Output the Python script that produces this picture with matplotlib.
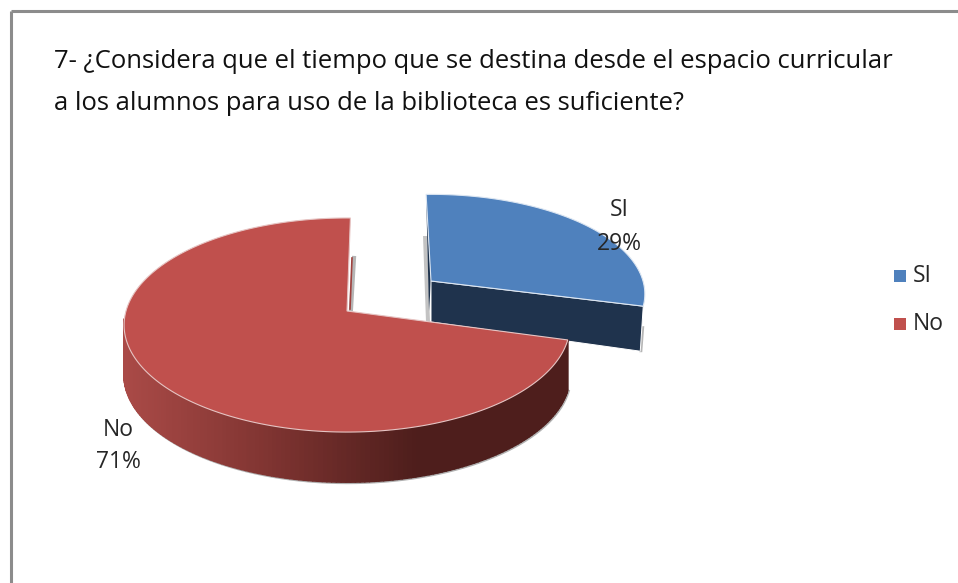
import numpy as np
import matplotlib
matplotlib.use("Agg")
from matplotlib import pyplot as plt
from matplotlib.colors import LinearSegmentedColormap
from matplotlib.collections import PolyCollection
from matplotlib.patches import Polygon, Rectangle

title_lines = [
    "7- ¿Considera que el tiempo que se destina desde el espacio curricular",
    "a los alumnos para uso de la biblioteca es suficiente?",
]
categories = ["SI", "No"]
percents = [29, 71]

BLUE = "#4f81bd"
RED = "#c0504d"
NAVY = "#1f334d"
K = 0.131  # perspective strength, far side of the pie is shorter
DEPTH = 46
FONT = "Open Sans"

plt.rcParams["font.family"] = [FONT, "DejaVu Sans"]
fig = plt.figure(figsize=(9.58, 5.83), dpi=100)
ax = fig.add_axes([0, 0, 1, 1])
ax.set_xlim(0, 958)
ax.set_ylim(583, 0)
ax.axis("off")


def project(theta, cx, cy, rx, ry):
    # clock angle in degrees -> pixel position on the tilted disc
    u = np.sin(np.radians(theta))
    v = np.cos(np.radians(theta))
    w = 1 + K * v
    return cx + rx * u / w, cy - ry * v / w


# slice angles come from the percentages
total = sum(percents)
si_sweep = 360 * percents[0] / total

# frame, only top and left are visible
ax.plot([11, 11], [583, 11], color="#8c8c8c", lw=2.2, solid_capstyle="butt")
ax.plot([11, 958], [11, 11], color="#8c8c8c", lw=2.2, solid_capstyle="butt")

# exploded SI slice
bx, by, brx, bry = 431, 281, 212, 98
th = np.linspace(-1.5, si_sweep, 80)
x, y = project(th, bx, by, brx, bry)
ax.add_patch(Polygon([(bx - 8, 236), (bx - 4, 236), (bx - 1, 322), (bx - 5, 322)],
                     fc="#b5b5b5", ec="none", alpha=0.8, zorder=1))
ax.add_patch(Polygon([(x[0], y[0]), (bx, by), (bx - 2, by + 30)], fc=NAVY, ec="none", zorder=1.5))
ax.add_patch(Polygon([(x[-1] - 2, y[-1] + 20), (x[-1] + 1, y[-1] + 20), (x[-1] - 1, y[-1] + 46), (x[-1] - 4, y[-1] + 46)],
                     fc="#b5b5b5", ec="none", zorder=1))
ax.add_patch(Polygon([(bx, by), (x[-1], y[-1]), (x[-1] - 3, y[-1] + 45), (bx, by + 41)],
                     fc=NAVY, ec="white", lw=0.7, zorder=2))
ax.add_patch(Polygon(list(zip(x, y)) + [(bx, by)], fc=BLUE, ec="#dce6f2", lw=0.8, zorder=3))

# No slice, side wall drawn in thin strips for the gradient
rx, ry, cx, cy = 221, 105.2, 347, 311
th = np.linspace(si_sweep + 1, 361, 240)
x, y = project(th, cx, cy, rx, ry)
shade = LinearSegmentedColormap.from_list("wall", ["#aa4a47", "#7f3431", "#4e1e1c", "#4e1e1c"])
strips = []
colors = []
for i in range(len(th) - 1):
    if y[i] < cy + 8 and y[i + 1] < cy + 8:
        continue
    strips.append([(x[i], y[i]), (x[i + 1], y[i + 1]),
                   (x[i + 1], y[i + 1] + DEPTH + 4), (x[i], y[i] + DEPTH + 4)])
    colors.append(shade((x[i] - 124) / 440))
ax.plot(x[y > cy] + 1, y[y > cy] + DEPTH + 5, color="#b0b0b0", lw=1.6, zorder=3)
ax.add_collection(PolyCollection(strips, facecolors=colors, edgecolors=colors, linewidths=1.3, zorder=4))
ax.add_patch(Polygon(list(zip(x, y)) + [(cx, cy)], fc=RED, ec="#e6c4c3", lw=0.8, zorder=5))
ax.plot([cx + 7, cx + 4], [258, 309], color="#b5b5b5", lw=3, zorder=1)
ax.plot([cx + 5, cx + 3], [258, 309], color="#a0413e", lw=1.2, zorder=1.5)

# data labels
ax.text(619, 227, f"{categories[0]}\n{percents[0]}%", ha="center", va="center",
        fontsize=16.5, color="#262626", linespacing=1.5, zorder=6)
ax.text(118, 446, f"{categories[1]}\n{percents[1]}%", ha="center", va="center",
        fontsize=16.5, color="#262626", linespacing=1.5, zorder=6)

# legend
for label, col, ly in zip(categories, [BLUE, RED], [276, 324]):
    ax.add_patch(Rectangle((894, ly - 6), 12, 12, fc=col, ec="none"))
    ax.text(913, ly, label, ha="left", va="center", fontsize=16.5, color="#262626")

# title
ax.text(54, 62, title_lines[0], ha="left", va="center", fontsize=18.45, color="#111111")
ax.text(54, 104, title_lines[1], ha="left", va="center", fontsize=18.45, color="#111111")

fig.savefig("out.png", dpi=100, facecolor="white")
